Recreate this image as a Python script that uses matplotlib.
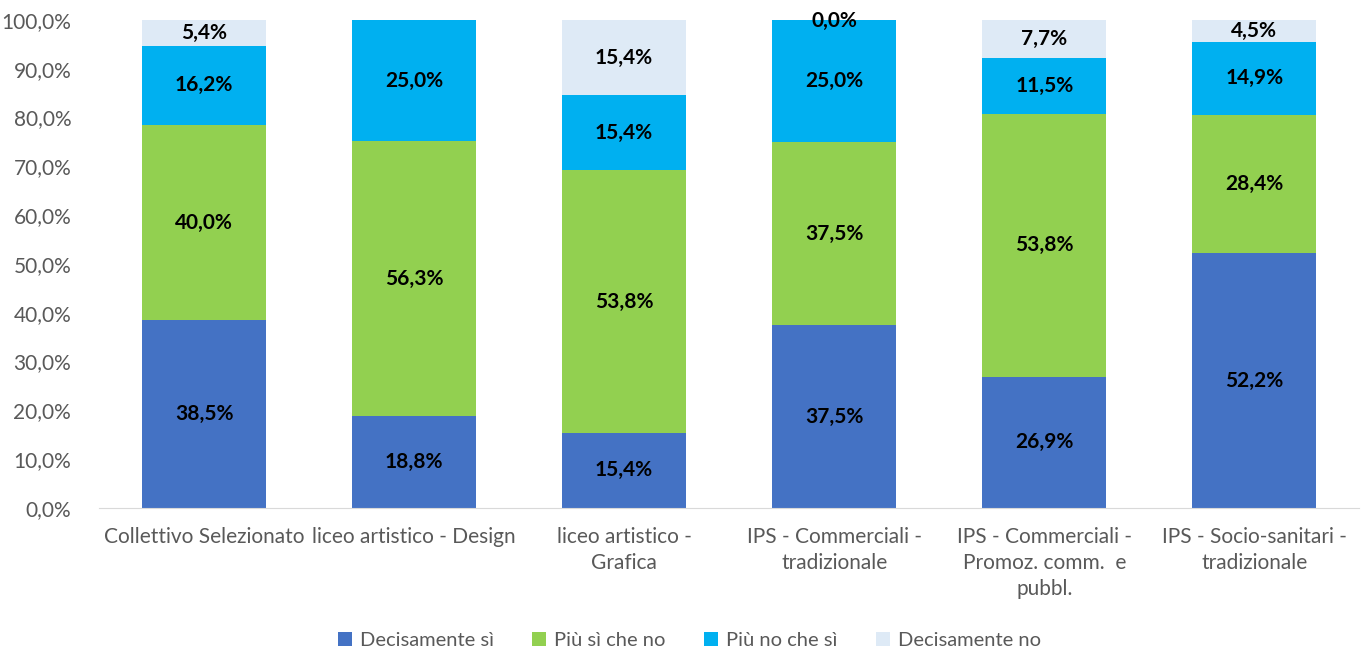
import numpy as np
import matplotlib
matplotlib.use("Agg")
import matplotlib.pyplot as plt
from matplotlib.ticker import FuncFormatter

plt.rcParams['font.family'] = ['Lato', 'DejaVu Sans']

categories = [
    "Collettivo Selezionato",
    "liceo artistico - Design",
    "liceo artistico -\nGrafica",
    "IPS - Commerciali -\ntradizionale",
    "IPS - Commerciali -\nPromoz. comm.  e\npubbl.",
    "IPS - Socio-sanitari -\ntradizionale",
]
series_names = ["Decisamente sì", "Più sì che no", "Più no che sì", "Decisamente no"]
decisamente_si = [38.5, 18.8, 15.4, 37.5, 26.9, 52.2]
piu_si_che_no = [40.0, 56.3, 53.8, 37.5, 53.8, 28.4]
piu_no_che_si = [16.2, 25.0, 15.4, 25.0, 11.5, 14.9]
decisamente_no = [5.4, None, 15.4, 0.0, 7.7, 4.5]

colors = ["#4472C4", "#92D050", "#00B0F0", "#DEEAF6"]
text_gray = "#595959"

fig = plt.figure(figsize=(13.62, 6.57), dpi=100)
ax = fig.add_axes([0.0727, 0.2268, 0.9253, 0.7428])

x = np.arange(len(categories))
bottom = np.zeros(len(categories))
for name, vals, col in zip(series_names,
                           [decisamente_si, piu_si_che_no, piu_no_che_si, decisamente_no],
                           colors):
    v = np.array([np.nan if a is None else a for a in vals], dtype=float)
    h = np.nan_to_num(v)
    ax.bar(x, h, 0.59, bottom=bottom, color=col, label=name)
    for i in range(len(x)):
        if np.isnan(v[i]):
            continue
        yc = bottom[i] + h[i] / 2
        if h[i] == 0:
            yc = bottom[i] - 0.3
        ax.text(x[i], yc, f"{v[i]:.1f}%".replace(".", ","), ha="center", va="center",
                fontsize=15, fontweight="bold", color="black")
    bottom += h

ax.set_xlim(-0.5, len(categories) - 0.5)
ax.set_ylim(0, 100)
ax.set_yticks(np.arange(0, 101, 10))
ax.yaxis.set_major_formatter(FuncFormatter(lambda val, p: f"{val:.1f}%".replace(".", ",")))
ax.set_xticks(x)
ax.set_xticklabels(categories, fontsize=15, color=text_gray, linespacing=1.35)
ax.tick_params(axis="y", labelsize=15, colors=text_gray, length=0, pad=20)
ax.tick_params(axis="x", length=0, pad=14)
for s in ["top", "right", "left"]:
    ax.spines[s].set_visible(False)
ax.spines["bottom"].set_color("#D9D9D9")

fig.legend(loc="lower center", ncol=4, bbox_to_anchor=(0.506, -0.015), frameon=False,
           fontsize=14.5, labelcolor=text_gray, handlelength=0.7, handleheight=0.7,
           handletextpad=0.4, columnspacing=1.9)

fig.savefig("out.png", dpi=100)
